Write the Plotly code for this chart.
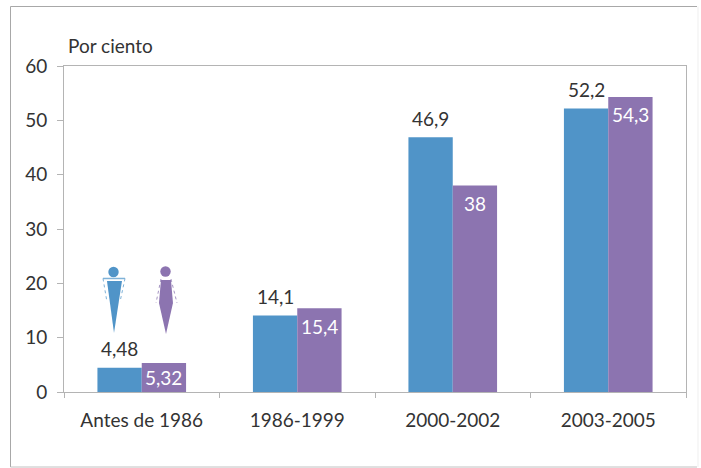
import plotly.graph_objects as go

categories = ["Antes de 1986", "1986-1999", "2000-2002", "2003-2005"]
hombres = [4.48, 14.1, 46.9, 52.2]
mujeres = [5.32, 15.4, 38, 54.3]
hombres_txt = ["4,48", "14,1", "46,9", "52,2"]
mujeres_txt = ["5,32", "15,4", "38", "54,3"]
y_ticks = [0, 10, 20, 30, 40, 50, 60]

W, H = 701, 468
L, R, T, B = 64, 686, 66, 392
FONT = "Lato"
BLUE = "#5094c8"
PURPLE = "#8c74b0"
GREY = "#b4b4b4"
INK = "#333333"
SIZE = 19

fig = go.Figure()
fig.add_bar(x=categories, y=hombres, marker=dict(color=BLUE, line=dict(width=0)), hoverinfo="skip")
fig.add_bar(x=categories, y=mujeres, marker=dict(color=PURPLE, line=dict(width=0)), hoverinfo="skip")

def px(x): return (x - L) / (R - L)
def py(y): return (B - y) / (B - T)
def path(pts):
    return "M " + " L ".join(f"{px(a):.4f},{py(b):.4f}" for a, b in pts) + " Z"

def circle(cx, cy, r, c):
    return dict(type="circle", xref="paper", yref="paper", x0=px(cx-r), x1=px(cx+r), y0=py(cy+r), y1=py(cy-r),
                fillcolor=c, line=dict(width=0))
def poly(pts, c):
    return dict(type="path", xref="paper", yref="paper", path=path(pts), fillcolor=c, line=dict(width=0))
def lines(pts, c, dash="solid", width=1):
    return dict(type="path", xref="paper", yref="paper",
                path="M " + " L ".join(f"{px(a):.4f},{py(b):.4f}" for a, b in pts),
                line=dict(color=c, width=width, dash=dash), fillcolor="rgba(0,0,0,0)")

shapes = [
    # outer frame
    lines([(10.5, 467), (10.5, 6.5), (697, 6.5)], "#a8a8a8"),
    lines([(10.5, 467), (697, 467)], "#c0c0c0"),
    lines([(698, 6.5), (698, 467)], "#efefef"),
    # man
    circle(113.5, 272, 5.2, BLUE),
    poly([(107, 281), (122, 281), (114, 333)], BLUE),
    lines([(103, 278.5), (125, 278.5)], "#7fb2d8", width=1.5),
    lines([(103, 278.5), (107, 302)], "#7fb2d8", "dot"),
    lines([(125, 278.5), (120, 302)], "#7fb2d8", "dot"),
    # woman
    circle(165.5, 271.5, 5.2, PURPLE),
    poly([(161, 280), (171, 280), (173, 303), (166, 334), (159, 303)], PURPLE),
    lines([(161, 279), (156, 303)], "#a594c2", "dot"),
    lines([(171, 279), (177, 303)], "#a594c2", "dot"),
]

HALF_BAR = 22.2
annotations = [dict(text="Por ciento", xref="paper", yref="paper", x=px(66), y=py(46),
                    xanchor="left", yanchor="middle", showarrow=False,
                    font=dict(size=SIZE, family=FONT, color=INK))]
for c, v, t in zip(categories, hombres, hombres_txt):
    annotations.append(dict(x=c, y=v, text=t, xref="x", yref="y", xshift=-HALF_BAR, yshift=5.5,
                            xanchor="center", yanchor="bottom", showarrow=False,
                            font=dict(size=SIZE, family=FONT, color=INK)))
for c, v, t in zip(categories, mujeres, mujeres_txt):
    annotations.append(dict(x=c, y=v, text=t, xref="x", yref="y", xshift=HALF_BAR,
                            yshift=-4.5 if v > 10 else -0.5,
                            xanchor="center", yanchor="top", showarrow=False,
                            font=dict(size=SIZE, family=FONT, color="white")))

fig.update_layout(
    width=W, height=H, autosize=False, barmode="group", bargap=0.43, bargroupgap=0,
    showlegend=False, paper_bgcolor="white", plot_bgcolor="white",
    margin=dict(l=L, r=W-R, t=T, b=H-B, pad=0),
    font=dict(family=FONT, size=SIZE, color=INK),
    shapes=shapes, annotations=annotations,
)
fig.update_xaxes(type="category", showline=True, linecolor=GREY, linewidth=1, mirror=True,
                 ticks="outside", ticklen=5, tickcolor=GREY, showgrid=False, tickson="boundaries",
                 ticklabelstandoff=11,
                 tickfont=dict(size=SIZE, family=FONT, color=INK))
fig.update_yaxes(range=[0, 60], tickvals=y_ticks, showline=True, linecolor=GREY, linewidth=1, mirror=True,
                 ticks="outside", ticklen=6, tickcolor=GREY, showgrid=False, zeroline=False,
                 ticklabelstandoff=6,
                 tickfont=dict(size=SIZE, family=FONT, color=INK))
fig.write_html("out.html", config=dict(displayModeBar=False),
               post_script="document.body.style.margin='0';document.body.style.overflow='hidden';")
